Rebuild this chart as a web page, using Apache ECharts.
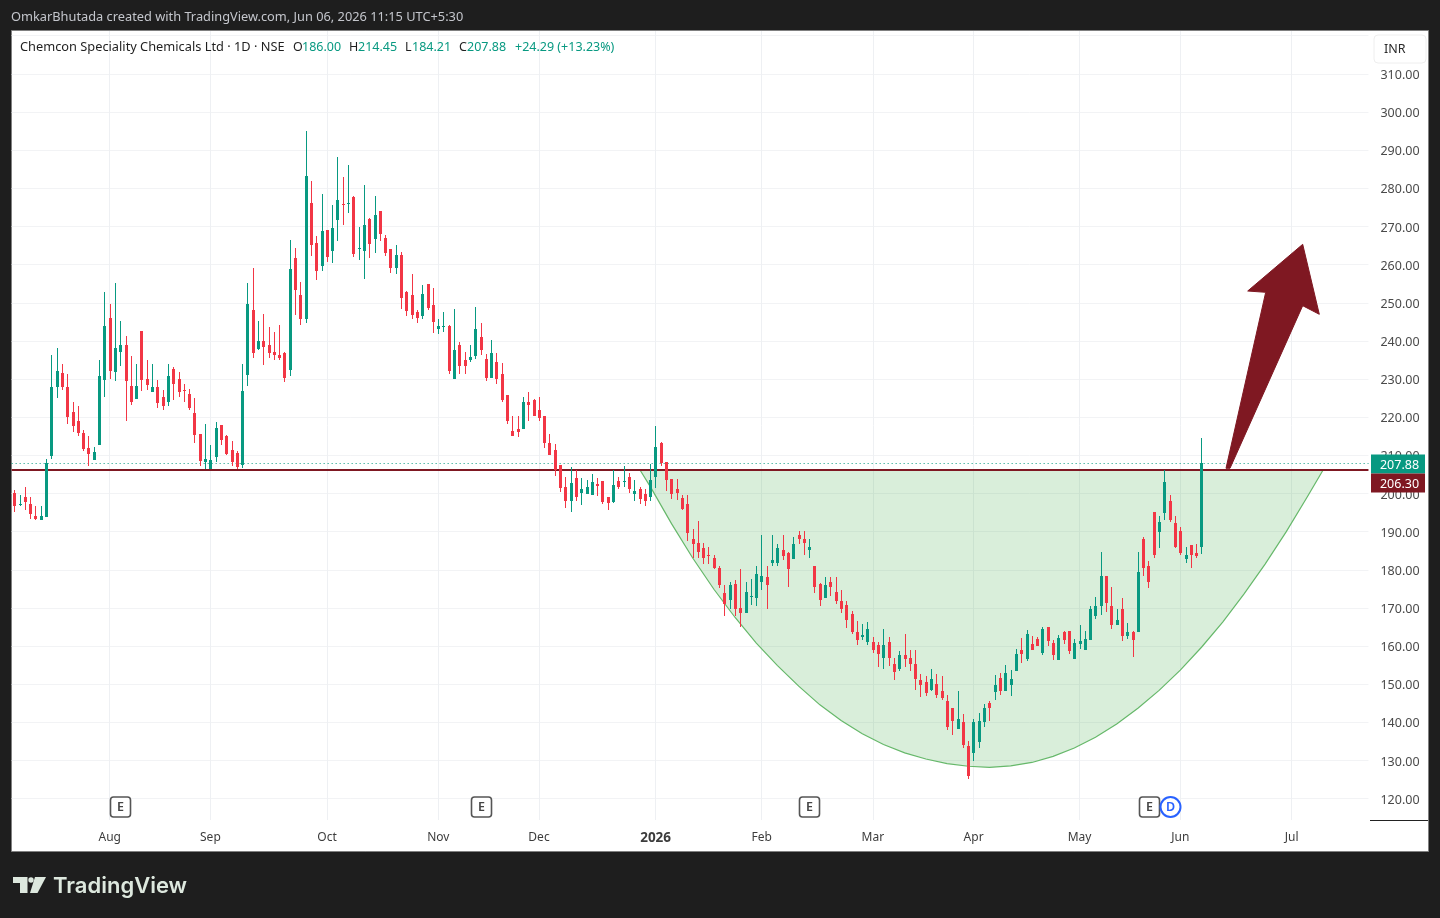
<!DOCTYPE html>
<html>
<head>
<meta charset="utf-8">
<title>Chemcon Speciality Chemicals Ltd · 1D · NSE</title>
<style>html,body{margin:0;padding:0;background:#1e1e1e}#chart{width:1440px;height:918px}</style>
<script src="https://cdn.jsdelivr.net/npm/echarts@6/dist/echarts.min.js"></script>
</head>
<body>
<div id="chart"></div>
<script>
// Daily prices, in INR, oldest session first
const opens = [
200.2,197.0,199.2,197.3,194.2,193.1,193.9,209.9,228.0,231.7,
228.0,221.4,219.1,215.9,212.0,208.9,212.6,229.8,246.1,231.9,
237.0,238.8,228.3,224.9,242.7,230.1,226.7,228.0,225.4,224.1,
232.7,230.1,227.2,226.1,221.1,215.6,208.3,206.3,209.6,218.0,
215.1,211.4,210.7,207.4,231.1,248.2,237.9,240.0,238.8,237.0,
236.4,236.7,232.4,261.8,252.1,245.8,276.2,265.7,259.7,269.1,
263.6,271.7,275.9,276.0,277.8,264.1,263.6,272.0,266.8,274.1,
267.0,264.1,259.2,262.6,252.9,252.1,247.6,246.6,255.0,249.5,
243.2,243.7,244.0,230.1,238.8,235.1,234.9,236.0,241.0,235.2,
230.4,234.6,231.2,225.7,216.5,216.8,217.0,224.1,224.6,221.8,
220.2,213.3,211.5,207.5,201.8,198.1,204.1,200.2,199.9,199.6,
202.5,203.3,199.1,197.8,203.3,203.1,204.4,199.9,201.2,199.9,
199.1,204.4,213.3,208.3,203.9,201.2,198.8,197.2,188.0,186.9,
185.6,184.0,183.2,180.6,174.0,172.2,176.4,170.1,168.8,173.0,
172.7,176.9,178.0,181.7,181.7,185.1,184.3,182.7,189.0,188.0,
185.1,181.1,176.4,172.5,176.9,174.3,171.7,170.9,168.3,163.8,
162.5,161.0,161.2,160.2,157.0,161.0,155.2,153.9,157.6,157.0,
155.2,151.0,150.7,148.4,150.0,148.1,145.5,143.9,138.4,140.0,
133.7,131.9,134.8,140.0,145.0,147.9,151.7,148.2,149.8,153.5,
159.0,156.7,160.6,161.9,158.2,165.1,160.9,156.4,163.8,164.0,
156.7,160.6,159.0,161.7,168.0,170.4,178.5,170.4,165.4,169.6,
162.7,163.8,163.8,188.0,180.9,195.1,189.8,194.8,198.0,192.2,
190.1,182.7,186.4,184.3,186.00];
const closes = [
196.6,197.3,197.9,194.7,193.4,194.2,208.0,228.0,232.2,227.8,
220.1,217.8,215.9,211.7,210.4,211.0,230.9,244.0,232.2,238.2,
238.8,229.6,224.1,228.3,229.8,228.5,228.0,223.8,223.0,230.9,
228.8,226.7,226.9,222.5,215.3,208.5,209.1,208.9,217.2,214.1,
210.4,208.3,207.0,226.9,249.8,236.9,240.0,238.4,236.7,236.2,
235.4,230.4,258.9,253.4,245.8,283.3,265.2,258.4,268.9,262.0,
269.7,277.0,275.7,276.2,262.8,264.4,270.4,265.5,273.1,268.1,
263.1,259.2,262.6,251.3,247.9,246.9,246.1,252.4,248.7,245.0,
244.0,244.0,232.2,237.7,233.5,233.5,235.7,243.1,237.5,230.4,
236.8,229.9,224.6,219.1,215.2,216.0,223.9,223.3,220.4,219.9,
213.3,210.2,206.2,201.5,198.1,202.8,199.1,201.2,201.8,203.1,
202.0,197.8,197.5,202.3,201.8,203.3,201.2,200.7,198.6,198.1,
203.6,212.3,208.1,203.6,199.9,200.2,195.9,189.6,186.7,184.6,
183.2,183.8,180.4,175.9,171.1,176.1,169.6,168.8,174.3,173.2,
179.0,178.5,176.1,182.5,185.6,183.5,180.1,186.7,188.0,186.9,
185.9,175.4,172.2,175.9,175.6,171.7,169.6,166.9,163.6,161.5,
162.8,164.6,159.1,157.8,160.2,157.0,153.1,157.6,156.5,155.2,
151.3,149.7,147.6,151.3,147.1,146.3,138.7,140.3,140.8,134.0,
125.9,140.0,140.3,143.7,143.7,149.8,148.2,153.0,151.4,158.0,
158.0,163.2,159.0,160.1,164.6,161.4,157.7,162.2,161.7,158.8,
160.9,161.4,161.9,169.6,170.6,178.5,171.4,165.4,166.9,162.7,
163.8,161.7,179.3,180.6,176.9,184.0,192.5,203.0,193.0,186.1,
184.3,183.8,184.0,183.59,207.88];
const highs = [
201.0,199.7,201.8,199.2,196.8,196.6,209.1,236.4,238.2,234.0,
231.2,223.9,223.0,216.7,215.1,212.3,235.1,252.9,249.7,255.2,
245.2,241.4,236.1,234.0,242.7,235.1,234.0,229.8,227.2,234.0,
233.2,231.9,228.8,227.5,225.1,215.6,218.3,212.6,218.8,218.0,
215.3,213.7,211.2,234.0,255.2,259.2,245.2,247.1,243.7,242.4,
244.2,237.2,266.5,264.4,255.5,295.1,282.0,267.6,278.6,269.1,
275.7,288.3,283.0,286.2,278.0,269.9,280.9,272.3,278.0,274.1,
267.8,264.1,265.2,263.4,253.1,257.6,248.2,254.7,255.0,253.9,
245.8,247.6,244.2,248.4,239.7,237.2,238.9,248.9,244.6,236.5,
240.2,236.8,234.1,225.7,220.4,220.2,225.2,226.5,224.9,225.2,
220.4,215.7,213.1,207.5,204.4,207.0,206.2,204.1,203.6,205.2,
204.1,203.3,199.1,206.2,204.4,207.3,205.4,203.6,201.8,201.2,
207.8,217.8,213.6,208.3,203.9,203.9,199.6,199.6,190.6,192.7,
186.9,186.1,184.0,180.9,176.1,176.9,177.2,180.1,176.9,177.7,
180.9,189.0,180.9,189.0,186.7,189.0,184.6,188.5,190.1,190.1,
188.0,181.1,176.6,178.0,178.0,178.2,174.6,171.9,169.1,166.5,
165.9,166.2,162.5,161.0,164.6,162.5,157.0,158.6,163.3,159.1,
159.1,152.6,152.1,154.1,152.6,152.1,147.1,143.9,148.1,142.1,
135.0,141.0,142.4,144.7,145.5,152.5,153.0,155.1,153.8,159.3,
162.2,164.3,162.7,162.5,165.1,165.1,161.7,163.0,164.0,164.0,
161.9,165.4,164.0,170.6,173.0,184.6,178.5,175.4,169.6,172.5,
166.1,164.0,184.6,188.5,182.2,195.1,194.0,206.1,199.6,194.0,
191.1,185.9,186.4,186.7,214.45];
const lows = [
195.2,196.8,195.8,193.4,193.1,193.1,193.9,209.1,225.1,227.2,
218.3,216.2,215.1,211.2,207.3,208.9,212.6,225.4,230.1,229.6,
233.4,219.1,223.3,224.9,226.9,227.2,226.7,222.5,222.0,223.0,
224.6,225.4,224.0,222.0,213.2,207.3,206.5,206.3,208.3,212.6,
210.2,207.3,206.5,206.8,228.3,235.6,237.7,233.7,235.6,235.1,
235.1,229.3,230.9,246.9,244.2,244.8,262.3,256.0,258.4,260.7,
260.5,266.2,270.4,273.6,262.0,261.3,256.3,261.6,263.1,266.2,
262.3,257.9,257.6,248.4,246.6,245.8,244.8,245.8,248.2,242.2,
241.9,242.4,231.4,230.1,231.4,231.2,234.4,235.2,236.2,229.6,
230.2,228.6,223.9,218.1,215.2,214.7,217.0,219.1,220.2,218.9,
211.8,210.2,204.6,200.4,196.2,195.2,198.1,197.0,199.9,199.6,
199.4,197.3,195.7,197.5,201.2,201.8,200.2,198.1,197.3,196.8,
198.1,201.5,207.3,200.7,198.6,198.3,195.6,187.5,183.2,183.0,
181.4,181.4,180.1,175.1,168.0,169.8,168.0,165.1,168.8,170.9,
170.4,174.8,169.8,180.9,181.1,182.5,175.4,182.7,186.7,184.0,
183.2,174.0,170.4,172.5,173.2,171.1,168.8,164.8,163.1,160.2,
161.5,160.2,158.3,154.4,154.1,154.9,151.0,153.4,154.4,153.4,
148.4,146.6,146.8,148.1,146.3,146.0,137.9,136.6,138.4,133.4,
125.1,129.8,133.2,138.7,140.3,145.9,147.2,148.2,146.9,153.5,
155.6,156.1,159.0,160.1,157.7,160.1,156.4,156.4,160.6,158.0,
156.7,159.3,159.0,161.7,167.2,168.2,169.0,164.6,165.4,161.4,
161.9,157.2,163.8,178.5,175.1,183.0,185.6,193.0,192.5,185.6,
183.8,181.7,180.6,183.0,184.21];

// Month boundaries on the session axis, which runs on past the last close
const monthSessions = [18, 37, 59, 80, 99, 121, 141, 162, 181, 201, 220, 241];
const monthLabels = ['Aug', 'Sep', 'Oct', 'Nov', 'Dec', '2026', 'Feb', 'Mar', 'Apr', 'May', 'Jun', 'Jul'];
const sessionSlots = 256;

// Rounded-bowl drawing: session and price along its lower edge
const bowlSessions = [118,120,124,128,132,136,140,144,148,152,156,160,164,168,172,176,180,184,188,192,196,200,204,208,212,216,220,224,228,232,236,240,244,247];
const bowlPrices = [206.3,201.8,192.1,183.1,174.9,167.5,160.8,154.9,149.5,144.6,140.5,137.0,134.2,132.0,130.4,129.2,128.5,128.2,128.6,129.5,131.1,133.3,136.1,139.6,143.7,148.4,153.7,159.7,166.3,173.6,181.5,190.0,199.2,206.3];

const resistanceLevel = 206.30;
const lastClose = 207.88;

// Earnings and dividend flags below the candles
const earningsSessions = [20, 88, 150, 214];
const dividendSessions = [218];

const categories = Array.from({length: sessionSlots}, (_, i) => String(i));
const labelBySession = {};
monthSessions.forEach((s, i) => { labelBySession[s] = monthLabels[i]; });
const candleData = opens.map((o, i) => [i, o, closes[i], lows[i], highs[i]]);

const UP = '#089981', DOWN = '#f23645', MAROON = '#7f1822', GRID = '#f2f3f5', TEXT = '#3c3c3c';
const FONT = '"Noto Sans", sans-serif';

function headerText(x, text, color, size) {
  return {type: 'text', x: x, y: 47.5, z: 20,
    style: {text: text, fill: color, font: (size || 12.5) + 'px ' + FONT, verticalAlign: 'middle'}};
}
function priceTag(y, text, color) {
  return [
    {type: 'rect', z: 30, shape: {x: 1371, y: y, width: 54, height: 19}, style: {fill: color}},
    {type: 'text', z: 31, x: 1399.5, y: y + 10.5,
      style: {text: text, fill: '#ffffff', font: '12.5px ' + FONT, align: 'center', verticalAlign: 'middle'}}
  ];
}

// Candle on whole pixels: one-pixel wick, three-pixel body, flat sessions keep a one-pixel body
function renderCandle(params, api) {
  const i = api.value(0), open = api.value(1), close = api.value(2), low = api.value(3), high = api.value(4);
  const col = Math.round(api.coord([i, close])[0] - 0.1);
  const yOf = (v) => Math.round(api.coord([i, v])[1]);
  const color = close >= open ? UP : DOWN;
  const top = yOf(Math.max(open, close));
  const bottom = Math.max(yOf(Math.min(open, close)), top + 1);
  return {type: 'group', children: [
    {type: 'rect', shape: {x: col, y: yOf(high), width: 1, height: yOf(low) - yOf(high)}, style: {fill: color}},
    {type: 'rect', shape: {x: col - 1, y: top, width: 3, height: bottom - top}, style: {fill: color}}
  ]};
}

const chart = echarts.init(document.getElementById('chart'), null, {renderer: 'canvas'});
chart.setOption({
  animation: false,
  backgroundColor: '#1e1e1e',
  grid: {left: 11.65, width: 1356.8, top: 35.7, height: 801.15, containLabel: false},
  xAxis: {
    type: 'category', data: categories, boundaryGap: true,
    axisLine: {show: false}, axisTick: {show: false}, splitLine: {show: false},
    axisLabel: {
      interval: (i) => labelBySession[i] !== undefined,
      formatter: (v) => {
        const t = labelBySession[v];
        return t === '2026' ? '{b|2026}' : t;
      },
      margin: -5, color: TEXT, fontFamily: FONT, fontSize: 12,
      rich: {b: {fontWeight: 'bold', fontSize: 13.5, lineHeight: 12, color: TEXT, fontFamily: FONT}}
    }
  },
  yAxis: {
    type: 'value', position: 'right', min: 110, max: 320, interval: 10, scale: true,
    axisLine: {show: false}, axisTick: {show: false},
    splitLine: {show: true, showMinLine: false, lineStyle: {color: GRID, width: 1}},
    axisLabel: {
      showMinLabel: false, showMaxLabel: false, inside: false, margin: 12,
      formatter: (v) => '{p|' + v.toFixed(2) + '}', align: 'left',
      rich: {p: {color: '#4a4a4a', fontFamily: FONT, fontSize: 12.5, padding: [3, 0, 0, 0]}}
    }
  },
  series: [
    {
      // Month gridlines
      type: 'line', data: [], clip: false, z: 1, silent: true, symbol: 'none',
      markLine: {
        silent: true, symbol: 'none', animation: false, label: {show: false}, z: 1,
        lineStyle: {color: '#eef0f3', width: 1, type: 'solid'},
        data: monthSessions.map((s) => [{xAxis: s, y: 31}, {xAxis: s, y: 820}])
      }
    },
    {
      // Bowl drawing with its pale fill
      type: 'custom', z: 2, clip: false, silent: true, data: [[0]],
      renderItem: (params, api) => {
        const pts = bowlSessions.map((s, i) => api.coord([s, bowlPrices[i]]));
        return {type: 'group', children: [
          {type: 'polygon', shape: {points: pts}, style: {fill: 'rgba(76,175,80,0.21)', stroke: null}},
          {type: 'polyline', shape: {points: pts}, style: {fill: null, stroke: '#66b86a', lineWidth: 1.2}}
        ]};
      }
    },
    {
      name: 'Chemcon', type: 'custom', z: 5, clip: false, silent: true, data: candleData,
      encode: {x: 0, y: [1, 2, 3, 4]}, renderItem: renderCandle,
      markLine: {
        silent: true, symbol: 'none', animation: false, label: {show: false}, z: 3,
        data: [
          {yAxis: resistanceLevel, lineStyle: {color: MAROON, width: 2, type: 'solid'}},
          {yAxis: lastClose, lineStyle: {color: UP, width: 1, type: [1, 3]}}
        ]
      }
    },
    {
      // Earnings and dividend flags sit on a fixed row under the price pane
      type: 'custom', z: 7, clip: false, silent: true, data: [[0]],
      renderItem: (params, api) => {
        const row = 807;
        const kids = [];
        earningsSessions.forEach((s) => {
          const x = Math.round(api.coord([s, 200])[0]) + 0.5;
          kids.push({type: 'rect', shape: {x: x - 10, y: row - 10, width: 20, height: 20, r: 3},
            style: {fill: '#fff', stroke: '#555', lineWidth: 1.6}});
          kids.push({type: 'text', x: x, y: row + 0.5,
            style: {text: 'E', fill: '#444', font: '600 12.5px ' + FONT, align: 'center', verticalAlign: 'middle'}});
        });
        dividendSessions.forEach((s) => {
          const x = Math.round(api.coord([s, 200])[0]) + 0.5;
          kids.push({type: 'circle', shape: {cx: x, cy: row, r: 10},
            style: {fill: '#fff', stroke: '#2962ff', lineWidth: 2}});
          kids.push({type: 'text', x: x, y: row + 0.5,
            style: {text: 'D', fill: '#2962ff', font: '600 12.5px ' + FONT, align: 'center', verticalAlign: 'middle'}});
        });
        return {type: 'group', children: kids};
      }
    }
  ],
  graphic: [
    // White chart panel on the dark page
    {type: 'rect', z: -10, shape: {x: 11.5, y: 30.5, width: 1417, height: 821},
      style: {fill: '#ffffff', stroke: '#808080', lineWidth: 1}},
    {type: 'line', z: 20, shape: {x1: 1370, y1: 820.5, x2: 1428, y2: 820.5}, style: {stroke: '#222', lineWidth: 1}},

    // Attribution line
    {type: 'text', x: 11, y: 17.5, z: 20,
      style: {text: 'OmkarBhutada created with TradingView.com, Jun 06, 2026 11:15 UTC+5:30',
        fill: '#c4c6cc', font: '12.8px ' + FONT, verticalAlign: 'middle'}},

    // Symbol and OHLC legend
    headerText(20, 'Chemcon Speciality Chemicals Ltd · 1D · NSE', '#1f1f1f', 12.8),
    headerText(293, 'O', '#1f1f1f'), headerText(302, '186.00', UP),
    headerText(349, 'H', '#1f1f1f'), headerText(358, '214.45', UP),
    headerText(405, 'L', '#1f1f1f'), headerText(412, '184.21', UP),
    headerText(459, 'C', '#1f1f1f'), headerText(467, '207.88', UP),
    headerText(515, '+24.29 (+13.23%)', UP),

    // Currency button
    {type: 'rect', z: 20, shape: {x: 1374, y: 35, width: 52, height: 28, r: 4},
      style: {fill: '#ffffff', stroke: '#eeeeee', lineWidth: 1}},
    {type: 'text', z: 21, x: 1384, y: 49.5,
      style: {text: 'INR', fill: '#2a2a2a', font: '12.5px ' + FONT, verticalAlign: 'middle'}},

    // Price tags on the scale
    ...priceTag(454.5, '207.88', UP),
    ...priceTag(473.5, '206.30', MAROON),

    // Breakout arrow
    {type: 'polygon', z: 8,
      shape: {points: [[1226, 468.3], [1265.7, 292.3], [1247.7, 291], [1302.7, 244.3], [1319.3, 314.3], [1302.7, 305.7], [1230, 468.3]]},
      style: {fill: MAROON, stroke: MAROON, lineWidth: 1, lineJoin: 'round'}},

    // Footer logo
    {type: 'polygon', z: 20, shape: {points: [[13, 877], [27.5, 877], [27.5, 893], [20, 893], [20, 883], [13, 883]]}, style: {fill: '#dde8de'}},
    {type: 'circle', z: 20, shape: {cx: 31, cy: 880, r: 2.7}, style: {fill: '#dde8de'}},
    {type: 'polygon', z: 20, shape: {points: [[35, 877], [46, 877], [37.5, 893], [30, 893]]}, style: {fill: '#dde8de'}},
    {type: 'text', z: 20, x: 53, y: 886,
      style: {text: 'TradingView', fill: '#dde8de', font: '600 22px Inter, sans-serif', verticalAlign: 'middle'}}
  ]
});
</script>
</body>
</html>
